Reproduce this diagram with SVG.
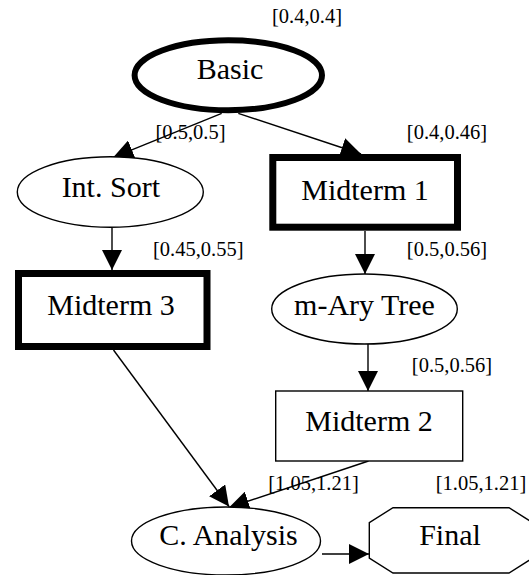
<svg xmlns="http://www.w3.org/2000/svg" width="529" height="575" viewBox="0 0 529 575">
<style>
.n{fill:#fff;stroke:#000;stroke-width:1.4}
.thick{stroke-width:7}
.t{font-family:"Liberation Serif","Times New Roman",serif;font-size:30px;text-anchor:middle;fill:#000}
.l{font-family:"Liberation Serif","Times New Roman",serif;font-size:20.5px;text-anchor:middle;fill:#000}
.e{stroke:#000;stroke-width:1.4;fill:none;marker-end:url(#ah)}
</style>
<defs>
<marker id="ah" markerUnits="userSpaceOnUse" markerWidth="20" markerHeight="20" viewBox="0 0 19 19" refX="19" refY="9.5" orient="auto">
<path d="M0,0 L19,9.5 L0,19 Z" fill="#000"/>
</marker>
</defs>
<rect width="529" height="575" fill="#fff"/>
<g id="connectors">
<line class="e" x1="221.7" y1="113.3" x2="113.3" y2="157.3"/>
<line class="e" x1="238.3" y1="113.3" x2="361" y2="154"/>
<line class="e" x1="112" y1="227.5" x2="112" y2="270"/>
<line class="e" x1="365" y1="231" x2="365" y2="274"/>
<line class="e" x1="368" y1="344" x2="368" y2="391"/>
<line class="e" x1="113.5" y1="350" x2="229" y2="506.5"/>
<line class="e" x1="368.5" y1="461" x2="229" y2="507.5"/>
<line class="e" x1="322" y1="554" x2="369" y2="554"/>
</g>
<g id="basic">
<ellipse class="n" cx="228.3" cy="75.3" rx="93.7" ry="35" style="stroke-width:6"/>
<text class="t" x="230" y="79">Basic</text>
<text class="l" x="307" y="23">[0.4,0.4]</text>
</g>
<g id="intsort">
<ellipse class="n" cx="110.3" cy="192" rx="93" ry="35.3"/>
<text class="t" x="110.8" y="197">Int. Sort</text>
<text class="l" x="190.5" y="139">[0.5,0.5]</text>
</g>
<g id="midterm1">
<rect class="n thick" x="272.8" y="157.5" width="184.7" height="69.7"/>
<text class="t" x="365" y="200">Midterm 1</text>
<text class="l" x="447" y="139">[0.4,0.46]</text>
</g>
<g id="midterm3">
<rect class="n thick" x="18.5" y="273.5" width="188.5" height="73"/>
<text class="t" x="111" y="315">Midterm 3</text>
<text class="l" x="198.3" y="256">[0.45,0.55]</text>
</g>
<g id="marytree">
<ellipse class="n" cx="364.5" cy="309" rx="92.8" ry="35"/>
<text class="t" x="364.5" y="315">m-Ary Tree</text>
<text class="l" x="447" y="256">[0.5,0.56]</text>
</g>
<g id="midterm2">
<rect class="n" x="275.7" y="391" width="187" height="70"/>
<text class="t" x="369" y="430.5">Midterm 2</text>
<text class="l" x="452" y="372">[0.5,0.56]</text>
</g>
<g id="canalysis">
<ellipse class="n" cx="226" cy="541" rx="94.5" ry="34"/>
<text class="t" x="228.5" y="545">C. Analysis</text>
<text class="l" x="313.5" y="490">[1.05,1.21]</text>
</g>
<g id="final">
<polygon class="n" points="393,507.7 509,507.7 532.7,522.7 532.7,558 509,573 393,573 369.3,558 369.3,522.7"/>
<text class="t" x="450" y="545">Final</text>
<text class="l" x="481" y="490">[1.05,1.21]</text>
</g>
</svg>
